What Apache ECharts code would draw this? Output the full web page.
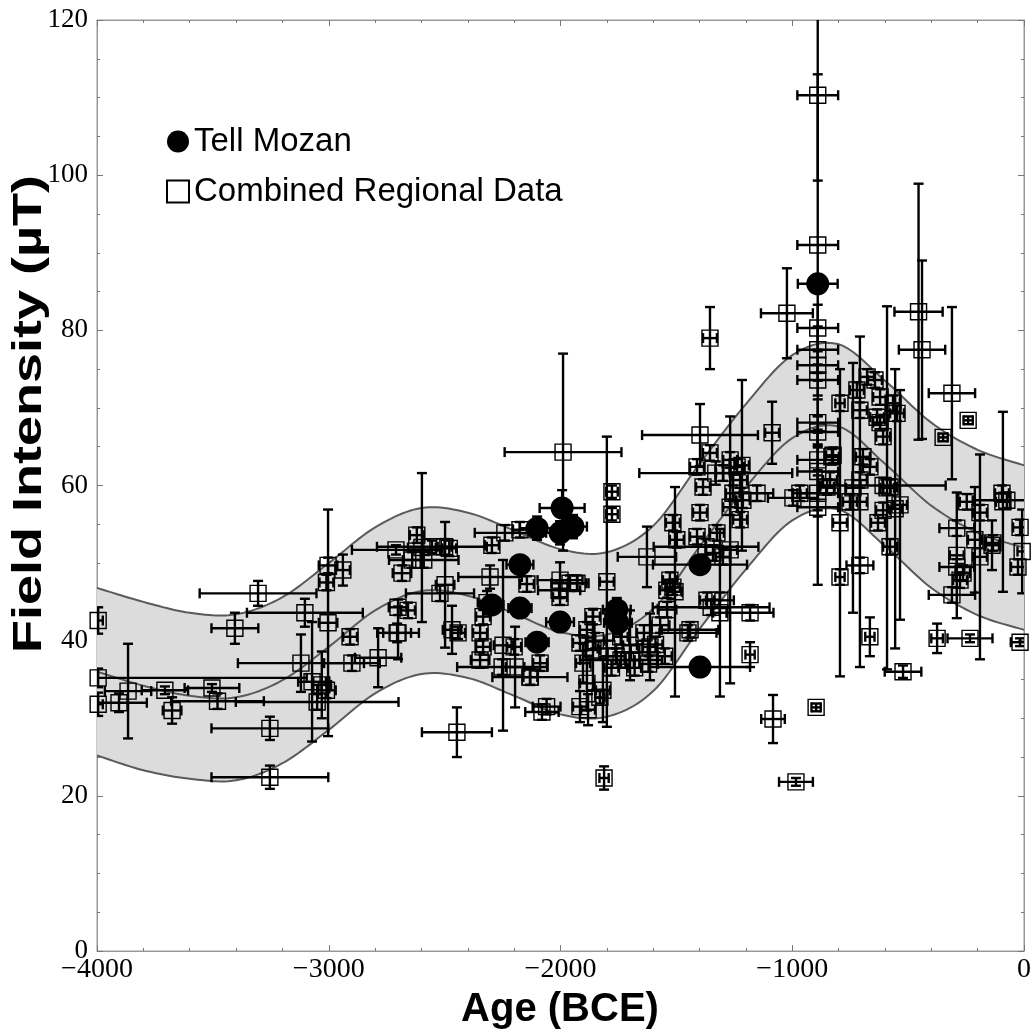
<!DOCTYPE html>
<html>
<head>
<meta charset="utf-8">
<script src="https://cdn.jsdelivr.net/npm/echarts/dist/echarts.min.js"></script>
<style>html,body{margin:0;padding:0;background:#fff;}#chart{width:1036px;height:1034px;}</style>
</head>
<body>
<div id="chart"></div>
<script>
// ---- axis ticks ----
const xTicks = [-4000, -3000, -2000, -1000, 0];
const yTicks = [0, 20, 40, 60, 80, 100, 120];

// ---- model band ----
const bandAge   = [-4000,-3800,-3600,-3400,-3200,-3000,-2800,-2600,-2400,-2200,-2000,-1800,-1600,-1400,-1200,-1000,-800,-600,-400,-200,0];
const bandUpper = [46.8,45.0,43.6,43.4,45.6,50.0,54.6,57.1,56.5,54.2,51.8,51.4,54.8,62.8,70.5,76.8,78.2,73.5,68.1,64.6,62.6];
const bandLower = [25.2,23.3,22.2,22.0,24.2,28.5,33.2,35.7,35.2,32.9,30.5,30.2,33.5,41.5,49.2,55.5,56.9,52.2,46.8,43.3,41.4];
const bandMid   = [36.0,34.2,32.9,32.7,34.9,39.2,43.9,46.4,45.8,43.5,41.1,40.8,44.1,52.1,59.8,66.1,67.6,62.8,57.4,53.9,52.0];

// ---- Tell Mozan ----
const tmAge    = [-1993,-1946,-2002,-2101,-2175,-2296,-2175,-2002,-2101,-1757,-1752,-1398,-1398,-890];
const tmF      = [57.1,54.7,53.9,54.5,49.8,44.6,44.2,42.4,39.8,44.0,42.3,49.8,36.6,86.0];
const tmAgeErr = [97,60,60,75,58,50,50,60,50,60,60,203,216,86];
const tmFErr   = [2.3,1.5,1.5,1.5,1.0,1.0,1.0,1.0,1.0,1.5,1.5,1.0,1.0,1.0];

// ---- Combined regional data ----
const regAge = [-3995,-3995,-3995,-3905,-3866,-3707,-3676,-3504,-3480,-3254,-3254,-3405,-3305,-3103,-3003,-3003,-2939,-2908,-2710,-2787,-2705,-3120,-3072,-3030,-3010,-3050,-2900,-3010,
-2684,-2701,-2658,-2701,-2598,-2498,-2620,-2555,-2500,-2480,-2590,-2640,-2296,-2240,-2175,-2520,-2468,-2442,-2447,-2304,-2317,-2334,-2347,-2334,-2347,-2248,-2196,-2252,-2132,-2200,-2088,-2130,-2080,-2060,
-1989,-2002,-1959,-1929,-2002,-2145,-1860,-1886,-1916,-1903,-1886,-1916,-1830,-1817,-1800,-1774,-1778,-1778,-1812,-1881,-1700,-1614,-1739,-1860,
-1850,-1800,-1780,-1760,-1740,-1720,-1680,-1660,-1640,-1620,-1590,-1570,-1550,-1540,-1627,-1515,-1506,-1441,-1528,-1541,
-1398,-1330,-1355,-1023,-1217,-1268,-1087,-1411,-1355,-1268,-1238,-1299,-1225,-1256,-1213,-1268,-1152,-1225,-1325,-1398,-1385,-1411,-1498,-1342,-1299,-1515,-1312,-1368,-1450,-1182,-1182,-1312,-1372,-1350,-1083,-897,-984,
-890,-890,-890,-890,-890,-890,-890,-890,-890,-890,-890,-890,
-967,-997,-829,-850,-794,-794,-738,-708,-591,-556,-535,-794,-708,-665,-522,-677,-643,-721,-621,-708,-634,-565,-548,-621,-608,-695,-665,-708,-578,-608,-630,-578,-824,-837,-751,-608,
-455,-440,-311,-241,-349,-190,-91,-8,-290,-212,-138,-290,-247,-190,-134,-95,-74,-17,-26,-290,-276,-263,-311,-375,-233,-17,-2006];
const regF = [42.6,35.2,31.8,32.0,33.5,33.6,31.0,33.9,32.2,28.7,22.4,41.6,46.1,43.6,42.3,49.7,49.1,40.5,51.7,37.8,41.0,37.1,34.7,34.3,33.6,32.1,37.1,47.5,
48.7,44.3,43.9,41.0,52.0,47.2,53.6,52.1,52.1,51.9,50.4,50.4,52.3,53.9,54.3,46.1,41.4,41.0,28.2,48.2,44.9,43.1,41.0,39.2,37.5,39.4,36.6,36.6,35.3,39.2,37.1,35.3,30.8,31.5,
64.3,47.8,47.4,47.4,45.6,47.3,43.1,41.4,39.7,37.1,34.5,31.5,32.7,33.6,47.6,43.1,59.2,56.3,22.3,31.1,39.4,39.2,37.5,38.8,
40.0,39.0,36.5,38.0,40.5,37.5,36.5,38.5,41.0,37.0,39.5,42.0,38.0,44.0,50.8,55.2,46.3,41.4,47.8,46.5,
66.5,61.6,79.0,82.2,62.6,51.7,66.8,62.4,64.2,63.3,62.4,61.6,60.7,59.0,58.1,57.2,59.0,55.6,53.9,56.5,59.8,53.4,53.0,51.3,50.8,46.9,45.2,45.2,41.0,43.6,38.2,43.6,52.1,44.3,29.9,31.4,21.8,
110.3,91.0,80.3,77.5,75.5,73.6,68.1,66.9,63.3,61.8,59.0,57.2,
59.0,58.4,63.7,59.8,70.6,55.2,59.7,57.9,59.7,57.0,57.5,48.2,49.7,40.5,36.0,74.0,73.6,72.3,71.4,69.7,68.8,70.6,69.3,68.1,66.3,63.7,62.4,60.7,59.8,56.8,55.2,52.1,63.9,60.7,57.9,60.0,
82.4,77.5,71.9,68.4,66.2,50.8,57.9,51.5,51.0,53.0,52.3,54.5,57.9,56.5,52.6,59.0,58.1,54.6,49.5,49.5,47.8,48.7,45.9,40.3,40.3,39.8,46.5];
const regAgeErr = [20,900,20,120,100,100,40,118,200,252,252,101,252,250,40,40,30,30,190,100,60,272,60,40,40,351,120,30,
40,40,30,90,60,40,30,237,30,30,150,40,30,130,30,147,40,30,151,137,40,30,30,30,40,40,40,194,162,30,30,30,72,60,
252,97,80,40,30,30,30,30,30,30,30,30,20,30,30,30,25,25,20,30,30,30,177,30,
40,40,30,40,30,40,30,40,30,40,30,40,30,40,126,30,30,122,30,30,
250,330,30,112,30,30,30,30,30,30,30,30,30,30,30,30,70,30,30,30,30,30,30,30,30,30,60,30,123,101,20,30,226,252,51,20,73,
88,88,88,88,88,88,88,88,88,88,88,88,
30,108,30,30,20,30,30,30,30,30,30,20,58,20,79,30,30,30,30,30,30,30,30,30,30,30,30,30,30,30,30,30,30,30,30,270,
104,100,100,20,20,30,30,20,30,30,30,75,30,30,30,30,147,30,30,75,30,30,100,25,97,40,91];
const regFErr = [1.7,1.2,1.5,1.2,6.1,0.5,1.7,0.5,1.0,1.5,1.5,2.0,1.6,1.8,14.6,1.0,2.0,1.0,0.6,3.8,1.2,3.7,7.7,4.3,1.0,1.0,1.0,1.0,
1.0,1.0,1.0,3.4,9.6,8.1,1.0,0.8,1.0,1.0,1.0,1.0,1.0,1.0,1.0,1.0,3.1,0.8,3.2,1.5,1.5,1.0,1.0,1.0,1.0,11.0,5.2,1.0,1.0,1.0,1.0,1.0,1.0,1.0,
12.7,2.3,1.0,1.0,1.0,1.0,1.0,1.0,1.0,2.5,3.5,2.0,0.8,4.1,18.7,1.0,0.8,0.8,1.5,2.0,4.5,4.3,1.0,5.2,
1.0,1.0,1.0,1.0,1.0,1.0,1.0,1.0,1.0,1.0,1.0,1.0,1.0,1.0,3.9,1.0,13.5,1.0,1.0,1.0,
4.0,1.5,4.0,5.8,11.0,17.2,4.0,1.0,1.0,1.0,1.0,1.0,1.0,1.0,1.0,1.0,1.0,1.0,1.0,1.0,1.0,1.0,1.0,1.0,1.0,1.0,1.0,1.0,1.0,1.0,1.6,10.8,1.0,1.0,3.1,0.5,0.5,
11.0,22.0,3.0,3.0,2.0,2.0,3.0,2.0,2.0,5.0,3.0,10.0,
1.0,1.0,1.0,1.0,1.0,19.8,16.1,21.3,23.4,18.0,14.8,1.0,1.0,2.5,0.8,1.0,1.0,1.0,1.0,1.0,1.0,1.0,1.0,1.0,1.0,1.0,1.0,1.0,1.0,1.0,1.0,1.0,1.0,1.0,1.0,1.0,
16.5,11.5,11.1,0.5,0.5,13.2,11.6,5.4,8.1,6.8,3.2,1.0,1.0,1.0,1.0,1.0,1.0,1.0,1.0,1.0,1.0,1.0,1.0,1.9,0.5,0.5,1.0];

const pairs = (xs, ys) => xs.map((x, i) => [x, ys[i]]);
const minus = v => (v < 0 ? '\u2212' + Math.abs(v) : String(v));

// Catmull-Rom smoothing of pixel points (pixels come from api.coord)
function smoothPts(p, n) {
  const out = [];
  for (let i = 0; i < p.length - 1; i++) {
    const p0 = p[i - 1] || p[i], p1 = p[i], p2 = p[i + 1], p3 = p[i + 2] || p[i + 1];
    for (let k = 0; k < n; k++) {
      const t = k / n, t2 = t * t, t3 = t2 * t;
      const f = (a, b, c, d) => 0.5 * ((2 * b) + (-a + c) * t + (2 * a - 5 * b + 4 * c - d) * t2 + (-a + 3 * b - 3 * c + d) * t3);
      out.push([f(p0[0], p1[0], p2[0], p3[0]), f(p0[1], p1[1], p2[1], p3[1])]);
    }
  }
  out.push(p[p.length - 1]);
  return out;
}

const bandSeries = {
  type: 'custom', name: 'band', z: 1, silent: true, clip: true,
  data: [[bandAge[0], bandMid[0]]], encode: { x: 0, y: 1 },
  renderItem: function (params, api) {
    const toPx = ys => smoothPts(bandAge.map((a, i) => api.coord([a, ys[i]])), 12);
    const up = toPx(bandUpper), lo = toPx(bandLower), mid = toPx(bandMid);
    const edge = { stroke: '#5a5a5a', lineWidth: 2, fill: null };
    return { type: 'group', children: [
      { type: 'polygon', shape: { points: up.concat(lo.slice().reverse()) }, style: { fill: '#dcdcdc', stroke: null } },
      { type: 'polyline', shape: { points: up }, style: edge },
      { type: 'polyline', shape: { points: lo }, style: edge },
      { type: 'polyline', shape: { points: mid }, style: edge }
    ] };
  }
};

function errSeries(name, ages, fs, ae, fe, z) {
  return {
    type: 'custom', name: name, z: z, clip: true, silent: true,
    data: ages.map((a, i) => [a, fs[i], ae[i], fe[i]]),
    encode: { x: 0, y: 1 },
    renderItem: function (params, api) {
      const x = api.value(0), y = api.value(1), ex = api.value(2), ey = api.value(3);
      const L = api.coord([x - ex, y]), R = api.coord([x + ex, y]);
      const T = api.coord([x, y + ey]), B = api.coord([x, y - ey]);
      const c = 5, st = { stroke: '#000', lineWidth: 2.4 };
      const ch = [];
      const ln = (x1, y1, x2, y2) => ch.push({ type: 'line', shape: { x1, y1, x2, y2 }, style: st });
      if (ex > 0) { ln(L[0], L[1], R[0], R[1]); ln(L[0], L[1] - c, L[0], L[1] + c); ln(R[0], R[1] - c, R[0], R[1] + c); }
      if (ey > 0) { ln(T[0], T[1], B[0], B[1]); ln(T[0] - c, T[1], T[0] + c, T[1]); ln(B[0] - c, B[1], B[0] + c, B[1]); }
      return { type: 'group', children: ch };
    }
  };
}

const tickStyle = { color: '#777', width: 1 };
const axisBase = {
  type: 'value',
  axisLine: { show: true, onZero: false, lineStyle: { color: '#999', width: 1 } },
  axisTick: { show: true, inside: true, length: 6, lineStyle: tickStyle },
  minorTick: { show: true, inside: true, length: 3, lineStyle: tickStyle },
  splitLine: { show: false }
};
const labelFont = { fontFamily: '"Liberation Serif", "Times New Roman", serif', fontSize: 28, color: '#000' };

const option = {
  animation: false,
  backgroundColor: '#fff',
  grid: { left: 97, right: 12, top: 20, bottom: 83, show: true, borderColor: '#999', borderWidth: 1, backgroundColor: 'transparent' },
  xAxis: [
    Object.assign({}, axisBase, { min: xTicks[0], max: xTicks[xTicks.length - 1], interval: 1000, position: 'bottom',
      minorTick: Object.assign({}, axisBase.minorTick, { splitNumber: 5 }),
      axisLabel: Object.assign({ margin: 5, formatter: minus }, labelFont) }),
    Object.assign({}, axisBase, { min: xTicks[0], max: xTicks[xTicks.length - 1], interval: 1000, position: 'top',
      minorTick: Object.assign({}, axisBase.minorTick, { splitNumber: 5 }), axisLabel: { show: false } })
  ],
  yAxis: [
    Object.assign({}, axisBase, { min: yTicks[0], max: yTicks[yTicks.length - 1], interval: 20, position: 'left',
      minorTick: Object.assign({}, axisBase.minorTick, { splitNumber: 4 }),
      axisLabel: Object.assign({ margin: 9 }, labelFont, { fontSize: 27 }) }),
    Object.assign({}, axisBase, { min: yTicks[0], max: yTicks[yTicks.length - 1], interval: 20, position: 'right',
      minorTick: Object.assign({}, axisBase.minorTick, { splitNumber: 4 }), axisLabel: { show: false } })
  ],
  legend: {
    orient: 'vertical', left: 166, top: 125, padding: 0, itemGap: 17, itemWidth: 22, itemHeight: 22,
    textStyle: { fontFamily: '"Liberation Sans", Arial, sans-serif', fontSize: 33, color: '#000' },
    data: [{ name: 'Tell Mozan', icon: 'circle' }, { name: 'Combined Regional Data', icon: 'rect' }]
  },
  graphic: [
    { type: 'text', x: 560, y: 1010, style: { text: 'Age (BCE)', font: 'bold 40px "Liberation Sans", Arial, sans-serif', fill: '#000', textAlign: 'center', textVerticalAlign: 'middle' } },
    { type: 'text', x: 30, y: 414, rotation: Math.PI / 2, scaleX: 1.35, style: { text: 'Field Intensity (\u00B5T)', font: 'bold 40px "Liberation Sans", Arial, sans-serif', fill: '#000', textAlign: 'center', textVerticalAlign: 'middle' } }
  ],
  series: [
    bandSeries,
    errSeries('regErr', regAge, regF, regAgeErr, regFErr, 3),
    { type: 'scatter', name: 'Combined Regional Data', data: pairs(regAge, regF), symbol: 'rect', symbolSize: 16,
      itemStyle: { color: 'rgba(255,255,255,0)', borderColor: '#000', borderWidth: 1.4, opacity: 1 }, z: 4 },
    errSeries('tmErr', tmAge, tmF, tmAgeErr, tmFErr, 5),
    { type: 'scatter', name: 'Tell Mozan', data: pairs(tmAge, tmF), symbol: 'circle', symbolSize: 23, itemStyle: { color: '#000', opacity: 1 }, z: 6 }
  ]
};
const chart = echarts.init(document.getElementById('chart'), null, { renderer: 'canvas' });
chart.setOption(option);
</script>
</body>
</html>
